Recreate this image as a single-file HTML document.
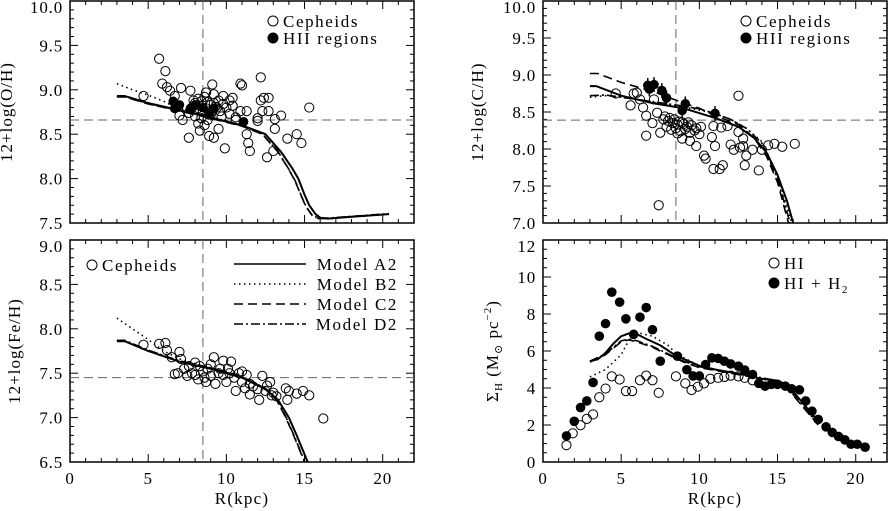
<!DOCTYPE html>
<html><head><meta charset="utf-8">
<style>
html,body{margin:0;padding:0;background:#fff;}
svg{display:block;font-family:"Liberation Serif","DejaVu Serif",serif;}
</style></head>
<body>
<svg id="chart" width="888" height="511" viewBox="0 0 888 511" xmlns="http://www.w3.org/2000/svg"></svg>
<script>
// ---------- data ----------
const xTicks = [0,5,10,15,20];
const ohTicks = ["7.5","8.0","8.5","9.0","9.5","10.0"];
const chTicks = ["7.0","7.5","8.0","8.5","9.0","9.5","10.0"];
const feTicks = ["6.5","7.0","7.5","8.0","8.5","9.0"];
const sigTicks = ["0","2","4","6","8","10","12"];

const ohCephR = [5.7,6.1,5.9,6.2,6.4,7.1,7.7,6.7,4.7,7.0,7.2,7.6,8.2,8.3,9.1,8.7,9.2,9.8,10.4,10.9,11.0,12.2,12.4,12.7,12.2,12.7,12.3,13.5,13.1,13.1,12.0,12.0,11.3,11.3,11.4,11.5,9.9,8.9,9.2,9.5,12.6,13.0,13.9,14.5,14.8,15.3,10.4,10.9,10.6,10.2,10.0,9.6,9.5,9.8,10.2,7.9,8.0,8.2,8.4,8.6,8.8,9.0,9.2,9.4,7.8,8.1,8.3,8.5,8.7,8.9,9.1,9.3,8.0,8.4,8.8,9.0,7.6,8.6,9.7,10.6];
const ohCephV = [9.35,9.21,9.07,9.03,8.99,9.02,8.99,8.93,8.93,8.71,8.66,8.46,8.62,8.54,9.06,8.97,8.95,8.93,8.91,9.07,9.05,9.14,8.91,8.91,8.88,8.76,8.76,8.71,8.67,8.56,8.68,8.65,8.76,8.50,8.40,8.31,8.34,8.48,8.46,8.56,8.24,8.31,8.45,8.50,8.40,8.80,8.82,8.76,8.69,8.73,8.80,8.76,8.88,8.84,8.88,8.88,8.85,8.90,8.87,8.92,8.86,8.83,8.85,8.80,8.80,8.78,8.82,8.76,8.79,8.72,8.76,8.81,8.70,8.68,8.66,8.72,8.74,8.60,8.70,8.66];
const ohHiiR = [6.6,7.0,6.7,7.7,8.0,8.5,9.2,8.9,11.1];
const ohHiiV = [8.87,8.83,8.79,8.79,8.83,8.80,8.79,8.74,8.64];

const chCephR = [4.65,5.8,6.0,5.6,6.2,6.4,6.6,6.6,7.0,7.4,7.1,7.3,7.5,8.9,9.4,9.8,10.3,10.4,10.9,11.3,11.5,10.8,10.9,11.0,12.5,12.0,12.2,12.6,12.8,12.9,13.0,13.8,13.4,14.0,14.4,14.8,15.3,16.1,12.5,12.8,11.8,11.4,7.7,8.0,8.3,8.6,8.9,9.2,9.5,9.8,10.1,7.9,8.2,8.5,8.8,9.1,9.4,9.7,10.0,8.1,8.4,8.7,9.0,9.3,7.8,8.6];
const chCephV = [8.75,8.75,8.76,8.59,8.67,8.56,8.45,8.18,8.35,7.24,8.67,8.49,8.22,8.14,8.11,8.04,7.91,7.87,7.73,7.73,7.78,8.16,8.31,8.04,8.72,8.06,7.99,8.02,8.04,7.78,7.91,7.71,7.99,7.99,8.05,8.07,8.03,8.07,8.23,8.14,8.31,8.29,8.40,8.38,8.35,8.33,8.36,8.30,8.32,8.28,8.30,8.30,8.26,8.28,8.24,8.27,8.22,8.25,8.20,8.42,8.40,8.37,8.34,8.36,8.44,8.21];
const chHiiR = [6.7,7.1,6.8,7.6,7.9,9.1,8.9,11.0];
const chHiiV = [8.86,8.87,8.81,8.79,8.69,8.61,8.52,8.48];

const feCephR = [4.7,5.7,6.1,6.2,6.5,7.0,7.1,6.9,6.7,7.3,7.6,8.0,8.2,9.2,9.8,10.3,10.1,11.0,11.3,12.3,12.1,11.5,12.8,13.2,13.8,14.0,13.9,14.5,14.9,15.3,16.2,12.5,11.7,10.6,10.0,9.3,8.7,9.0,8.5,8.8,9.5,10.5,11.0,7.8,8.3,9.0,8.0,9.8,10.8,11.5,12.0,12.6,13.0,7.5,8.6,9.6,10.2,11.2,12.9];
const feCephV = [7.82,7.83,7.84,7.76,7.68,7.74,7.66,7.50,7.49,7.55,7.58,7.62,7.43,7.68,7.64,7.63,7.55,7.52,7.48,7.47,7.20,7.26,7.40,7.24,7.33,7.30,7.20,7.27,7.30,7.25,6.99,7.30,7.35,7.30,7.40,7.38,7.40,7.47,7.52,7.55,7.50,7.45,7.40,7.50,7.58,7.60,7.48,7.48,7.50,7.38,7.32,7.36,7.28,7.47,7.45,7.55,7.50,7.33,7.25];

const sigH2R = [1.5,2.0,2.4,2.8,3.2,3.6,4.0,4.4,4.9,5.3,5.8,6.2,6.6,7.0,7.5,8.6,9.2,9.6,10.0,10.4,10.8,11.2,11.6,12.0,12.5,12.9,13.4,13.8,14.2,14.6,15.0,15.5,15.9,16.4,16.8,17.2,17.6,18.1,18.5,18.9,19.3,19.7,20.1,20.6];
const sigH2V = [1.41,2.2,2.94,3.3,4.3,6.8,7.48,9.18,8.64,7.74,6.9,7.83,8.35,7.15,5.45,5.72,4.99,4.65,4.65,5.27,5.63,5.6,5.45,5.3,5.18,4.97,4.73,4.25,4.1,4.2,4.2,4.1,3.96,3.9,3.3,2.75,2.3,1.9,1.6,1.38,1.2,0.96,0.96,0.8];
const sigHIR = [1.5,1.9,2.4,2.8,3.2,3.6,4.0,4.4,4.9,5.3,5.7,6.2,6.6,7.0,7.4,8.5,9.1,9.5,9.9,10.3,10.7,11.2,11.6,12.0,12.5,12.9,13.4];
const sigHIV = [0.91,1.55,1.99,2.33,2.57,3.5,3.97,4.63,4.46,3.83,3.83,4.42,4.67,4.42,3.74,4.63,4.25,3.89,4.07,4.25,4.5,4.55,4.6,4.67,4.63,4.55,4.42];

// model curves
const ohA2R=[3,3.5,5,6.5,8.5,11,12.5,13.5,14.2,14.6,15,15.3,15.7,16,16.5,18,20.4];
const ohA2V=[8.93,8.93,8.85,8.79,8.71,8.6,8.5,8.3,8.12,8.0,7.82,7.7,7.6,7.56,7.55,7.57,7.6];
const ohB2R=[3,4,5,6,6.8,8.5,11,12.5,13.5,14.2,14.6,15,15.3,15.7,16,16.5,18,20.4];
const ohB2V=[9.07,9.0,8.94,8.87,8.8,8.72,8.6,8.5,8.3,8.12,8.0,7.82,7.7,7.6,7.56,7.55,7.57,7.6];
const ohC2R=[3,3.5,5,6.5,8.5,11,12.3,13.3,14.0,14.4,14.8,15.1,15.5,15.9,16.5,18,20.4];
const ohC2V=[8.92,8.92,8.84,8.78,8.7,8.59,8.5,8.3,8.1,7.97,7.8,7.68,7.58,7.55,7.55,7.57,7.6];

const chA2R=[3,3.4,5,7,9,11,12.5,13.5,14.3,15,15.6,16.0];
const chA2V=[8.85,8.85,8.72,8.62,8.55,8.42,8.3,8.15,7.95,7.65,7.3,7.0];
const chB2R=[3,4,5,7,9,11,12,13,14,15,15.9];
const chB2V=[8.7,8.72,8.7,8.63,8.57,8.48,8.4,8.28,8.1,7.65,7.0];
const chC2R=[3,3.5,5,7,9,10,11,12.5,13.5,14.3,15,15.7];
const chC2V=[9.02,9.02,8.9,8.78,8.62,8.55,8.45,8.33,8.15,7.9,7.55,7.0];
const chD2R=[3,4,5,7,9,10,11,12,13,14,15,15.8];
const chD2V=[8.72,8.73,8.7,8.64,8.58,8.54,8.48,8.4,8.28,8.08,7.6,7.0];

const feA2R=[3,3.5,5,7,9,11,12.5,13.3,14,14.5,15.2];
const feA2V=[7.86,7.86,7.75,7.63,7.55,7.45,7.32,7.2,7.0,6.8,6.5];
const feB2R=[3,4,5,6,7,9,11,12.5,13.3,14,14.5,15.2];
const feB2V=[8.12,8.0,7.88,7.75,7.66,7.56,7.46,7.33,7.2,7.0,6.8,6.5];
const feC2R=[3,3.5,5,7,9,11,12.5,13.2,13.8,14.3,15.0];
const feC2V=[7.86,7.86,7.75,7.63,7.55,7.45,7.32,7.2,7.0,6.8,6.5];

const sgA2R=[3,3.5,4,4.5,5,5.5,5.8,6.5,7.5,8.5,10,11,12,13,14,15,15.5,16,16.5,17,17.6];
const sgA2V=[5.45,5.55,5.9,6.4,6.8,6.95,7.0,6.7,6.3,5.75,5.2,5.0,4.85,4.7,4.5,4.4,4.2,3.8,3.3,2.8,2.2];
const sgB2R=[3,4,5,5.5,6,7,8,8.6,10,11,12,13,14,15,15.5,16,16.5,17,17.6];
const sgB2V=[4.6,5.0,5.8,6.6,7.0,6.8,6.3,5.8,5.2,5.0,4.85,4.7,4.5,4.4,4.2,3.8,3.3,2.8,2.2];
const sgC2R=[3,4,5,5.5,6,7,8,9,10,12,14,15,15.5,16,16.5,17,17.6];
const sgC2V=[5.4,5.8,6.5,6.6,6.5,6.2,5.8,5.4,5.1,4.8,4.5,4.35,4.1,3.6,3.1,2.6,2.0];

// ---------- drawing ----------
const NS="http://www.w3.org/2000/svg";
const svg=document.getElementById('chart');
function mk(tag,attrs,parent){const e=document.createElementNS(NS,tag);for(const k in attrs)e.setAttribute(k,attrs[k]);(parent||svg).appendChild(e);return e;}

function panel(p){
  const g=mk('g',{});
  
  
  const X=v=>p.x0+(v-0)/(22-0)*(p.x1-p.x0);
  const Y=v=>p.y1-(v-p.ymin)/(p.ymax-p.ymin)*(p.y1-p.y0);
  const box=mk('rect',{x:p.x0,y:p.y0,width:p.x1-p.x0,height:p.y1-p.y0,fill:'none',stroke:'#000','stroke-width':1.5},g);
  
  
  for(let v=0;v<=22;v++){const len=(v%5===0)?8:4;const x=X(v);
    mk('line',{x1:x,x2:x,y1:p.y1,y2:p.y1-len,stroke:'#000'},g);
    mk('line',{x1:x,x2:x,y1:p.y0,y2:p.y0+len,stroke:'#000'},g);}
  const nMin=Math.round((p.ymax-p.ymin)/p.minor);
  for(let i=0;i<=nMin;i++){const v=p.ymin+i*p.minor;const major=Math.abs(((v-p.ymin)/p.major)-Math.round((v-p.ymin)/p.major))<1e-6;
    const len=major?8:4;const y=Y(v);
    mk('line',{x1:p.x0,x2:p.x0+len,y1:y,y2:y,stroke:'#000'},g);
    mk('line',{x1:p.x1,x2:p.x1-len,y1:y,y2:y,stroke:'#000'},g);}
  p.yTicks.forEach((t,i)=>{const v=parseFloat(t);let y=Y(v)+6;if(y<p.y0+12)y=p.y0+12;
    const tx=mk('text',{x:p.x0-7,y:y,'text-anchor':'end','font-size':17,'letter-spacing':0.8},g);tx.textContent=t;
    
    });
  if(p.xLabels){xTicks.forEach(v=>{const tx=mk('text',{x:X(v),y:p.y1+22,'text-anchor':'middle','font-size':17,'letter-spacing':0.8},g);tx.textContent=v;
    
    });
    const xt=mk('text',{x:(p.x0+p.x1)/2,y:p.y1+42,'text-anchor':'middle','font-size':17,'letter-spacing':1.2},g);xt.textContent='R(kpc)';
    
    }
  const yt=mk('text',{x:0,y:0,'text-anchor':'middle','font-size':17,'letter-spacing':1,transform:`translate(${p.x0-p.ytOff},${(p.y0+p.y1)/2}) rotate(-90)`},g);
  
  
  if(p.ytitleHTML){yt.innerHTML=p.ytitleHTML;}else yt.textContent=p.ytitle;
  if(p.href!==undefined){const l=mk('line',{x1:p.x0,x2:p.x1,y1:Y(p.href),y2:Y(p.href),stroke:'#666','stroke-dasharray':'9,5'},g);
    
    
    const v=mk('line',{x1:X(8.5),x2:X(8.5),y1:p.y0,y2:p.y1,stroke:'#666','stroke-dasharray':'9,5'},g);
    
    }
  const clip='clip-'+p.name;
  const cp=mk('clipPath',{id:clip},g);mk('rect',{x:p.x0,y:p.y0,width:p.x1-p.x0,height:p.y1-p.y0},cp);
  const inner=mk('g',{'clip-path':`url(#${clip})`},g);
  (p.open||[]).forEach(s=>{s[0].forEach((r,i)=>{const c=mk('circle',{cx:X(r),cy:Y(s[1][i]),r:4.6,fill:'none',stroke:'#000','stroke-width':1},inner);
    
    });});
  (p.filled||[]).forEach(s=>{s[0].forEach((r,i)=>{
    if(p.err){const e=mk('line',{x1:X(r),x2:X(r),y1:Y(s[1][i]+0.1),y2:Y(s[1][i]-0.1),stroke:'#000','stroke-width':1.5},inner);
      
      }
    const c=mk('circle',{cx:X(r),cy:Y(s[1][i]),r:4.8,fill:'#000'},inner);
    
    });});
  const dashes={A2:'',B2:'1.5,3.5',C2:'9,5',D2:'9,3,2,3'};
  p.models.forEach(m=>{const d=m.r.map((r,i)=>(i?'L':'M')+X(r).toFixed(1)+','+Y(m.v[i]).toFixed(1)).join('');
    const pa=mk('path',{d:d,fill:'none',stroke:'#000','stroke-width':m.k==='A2'?2:1.6,'stroke-dasharray':dashes[m.k]},inner);
    
    });
  return {g,X,Y};
}

function legendEntry(g,cx,cy,filled,label,name,html){
  const gg=mk('g',{},g);
  
  
  mk('circle',{cx:cx,cy:cy,r:5,fill:filled?'#000':'none',stroke:'#000'},gg);
  const t=mk('text',{x:cx+10,y:cy+6,'font-size':17,'letter-spacing':1.6},gg);
  if(html)t.innerHTML=html;else t.textContent=label;
}

const P1=panel({name:'oh-gradient-panel',x0:70,x1:414,y0:1,y1:223,ymin:7.5,ymax:10,major:0.5,minor:0.1,yTicks:ohTicks,ytitle:'12+log(O/H)',ytOff:58,href:8.66,
  open:[[ohCephR,ohCephV]],filled:[[ohHiiR,ohHiiV]],
  models:[{k:'B2',r:ohB2R,v:ohB2V},{k:'C2',r:ohC2R,v:ohC2V},{k:'D2',r:ohC2R,v:ohC2V.map(v=>v+0.005)},{k:'A2',r:ohA2R,v:ohA2V}]});
legendEntry(P1.g,273,21,false,'Cepheids','legend-cepheids');
legendEntry(P1.g,273,38,true,'HII regions','legend-hii-regions');

const P2=panel({name:'ch-gradient-panel',x0:543,x1:887,y0:1,y1:223,ymin:7,ymax:10,major:0.5,minor:0.1,yTicks:chTicks,ytitle:'12+log(C/H)',ytOff:60,href:8.39,
  open:[[chCephR,chCephV]],filled:[[chHiiR,chHiiV]],err:true,
  models:[{k:'B2',r:chB2R,v:chB2V},{k:'C2',r:chC2R,v:chC2V},{k:'D2',r:chD2R,v:chD2V},{k:'A2',r:chA2R,v:chA2V}]});
legendEntry(P2.g,746,21,false,'Cepheids','legend-cepheids');
legendEntry(P2.g,746,38,true,'HII regions','legend-hii-regions');

const P3=panel({name:'fe-gradient-panel',x0:70,x1:414,y0:240,y1:462,ymin:6.5,ymax:9,major:0.5,minor:0.1,yTicks:feTicks,ytitle:'12+log(Fe/H)',ytOff:50,href:7.45,xLabels:true,
  open:[[feCephR,feCephV]],
  models:[{k:'B2',r:feB2R,v:feB2V},{k:'C2',r:feC2R,v:feC2V},{k:'D2',r:feC2R,v:feC2V.map(v=>v+0.01)},{k:'A2',r:feA2R,v:feA2V}]});
legendEntry(P3.g,92,265,false,'Cepheids','legend-cepheids');
const legendNames=['Model A2','Model B2','Model C2','Model D2'];
const legendDash=['','1.5,3.5','9,5','9,3,2,3'];
legendNames.forEach((n,i)=>{const y=264+i*20;
  const gg=mk('g',{},P3.g);
  
  
  mk('line',{x1:234,x2:306,y1:y,y2:y,stroke:'#000','stroke-width':1.6,'stroke-dasharray':legendDash[i]},gg);
  const t=mk('text',{x:398,y:y+6,'text-anchor':'end','font-size':17,'letter-spacing':1.6},gg);t.textContent=n;});

const P4=panel({name:'gas-density-panel',x0:543,x1:887,y0:240,y1:462,ymin:0,ymax:12,major:2,minor:0.5,yTicks:sigTicks,ytOff:45,
  ytitleHTML:'Σ<tspan font-size="11" dy="4">H</tspan><tspan dy="-4"> (M</tspan><tspan font-size="11" dy="4">⊙</tspan><tspan dy="-4"> pc</tspan><tspan font-size="11" dy="-7">−2</tspan><tspan dy="7">)</tspan>',xLabels:true,
  open:[[sigHIR,sigHIV]],filled:[[sigH2R,sigH2V]],
  models:[{k:'B2',r:sgB2R,v:sgB2V},{k:'C2',r:sgC2R,v:sgC2V},{k:'D2',r:sgC2R,v:sgC2V.map(v=>v+0.05)},{k:'A2',r:sgA2R,v:sgA2V}]});
legendEntry(P4.g,774,263,false,'HI','legend-hi');
legendEntry(P4.g,774,283,true,'','legend-hi-h2','HI  +  H<tspan font-size="11" dy="4">2</tspan>');
</script>
</body></html>
